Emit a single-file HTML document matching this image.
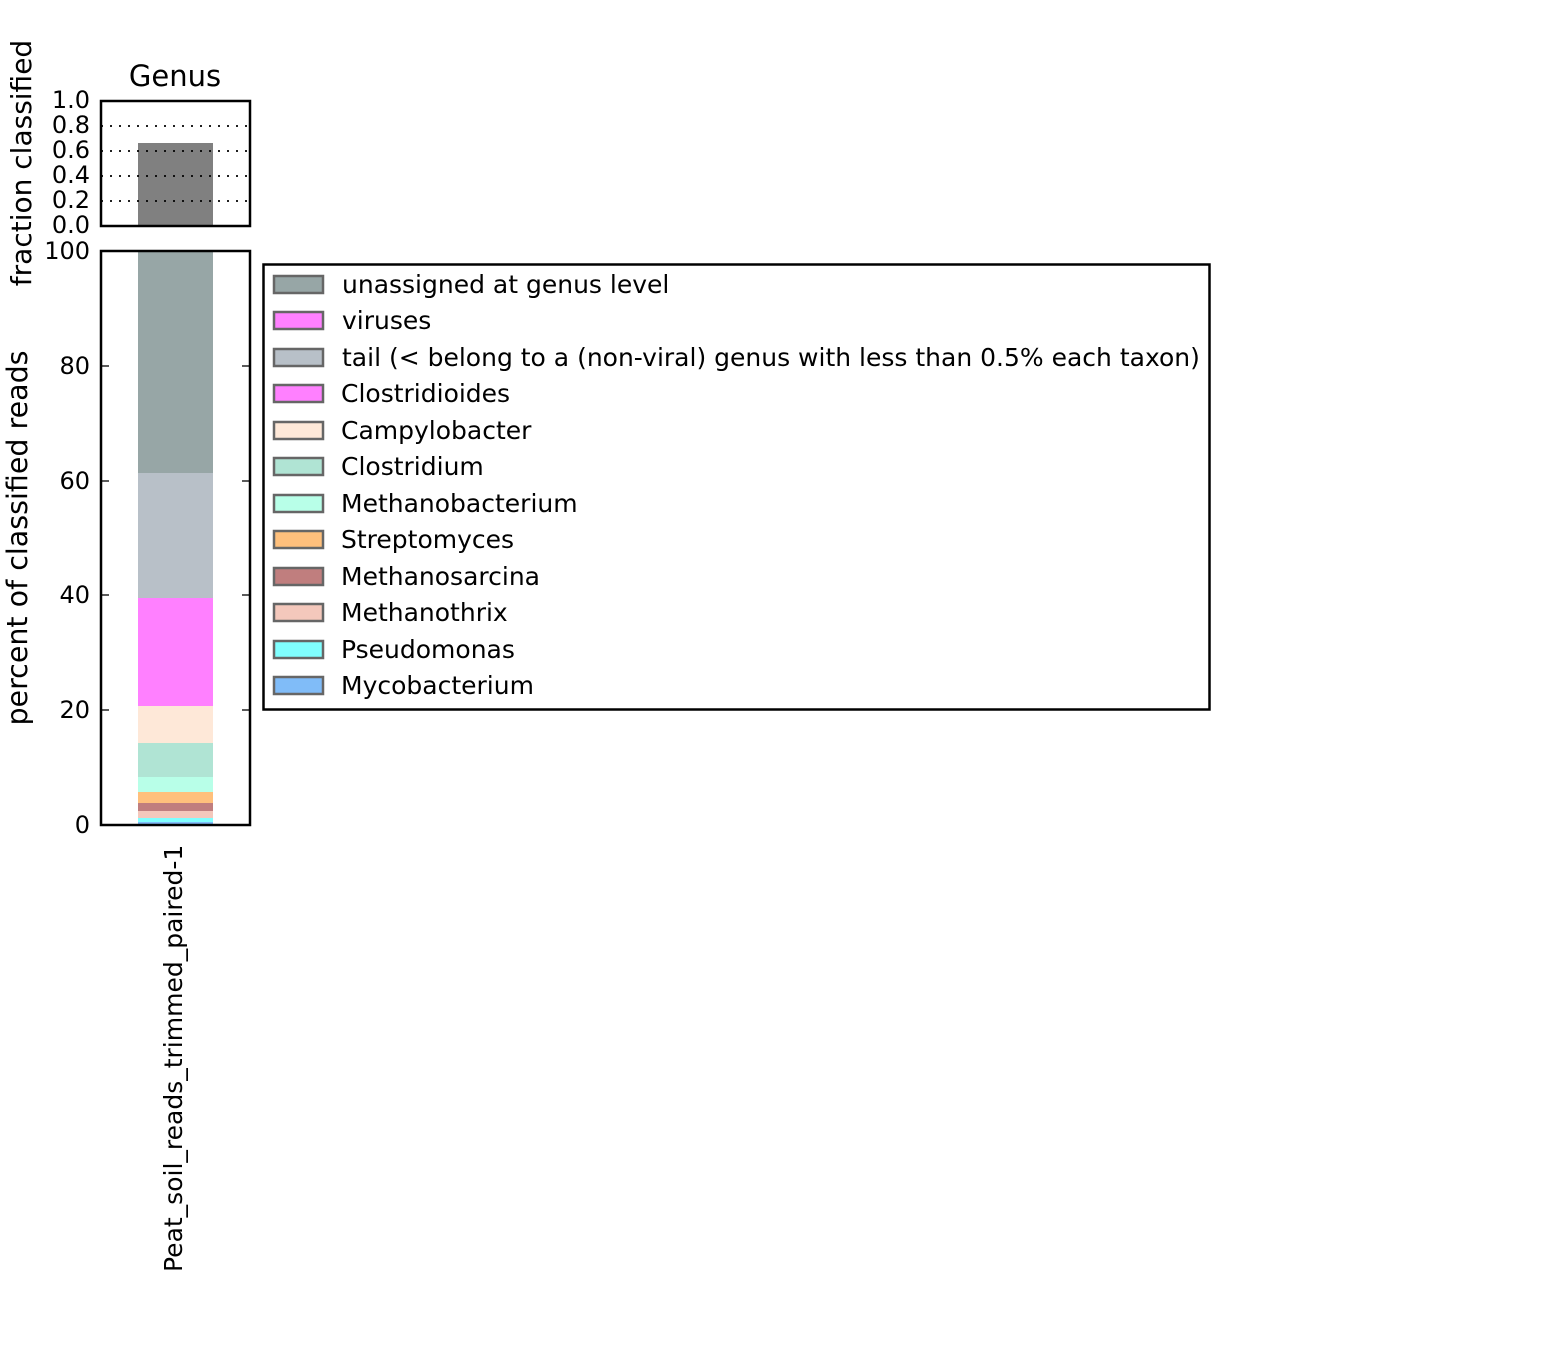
<!DOCTYPE html>
<html><head><meta charset="utf-8"><style>body{margin:0;background:#fff}svg{display:block}</style></head>
<body>
<svg width="1557" height="1362" xmlns="http://www.w3.org/2000/svg" font-family="DejaVu Sans, Liberation Sans, sans-serif">
<rect width="1557" height="1362" fill="#fff"/>
<text x="175" y="86" font-size="29" text-anchor="middle">Genus</text>
<rect x="138" y="143" width="75" height="83" fill="#808080"/>
<g stroke="#000" stroke-width="1.8" stroke-dasharray="2,7">
<line x1="101" y1="126" x2="250" y2="126"/><line x1="101" y1="151" x2="250" y2="151"/>
<line x1="101" y1="176" x2="250" y2="176"/><line x1="101" y1="201" x2="250" y2="201"/>
</g>
<rect x="101" y="101" width="149" height="125" fill="none" stroke="#000" stroke-width="2.5"/>
<g font-size="24" text-anchor="end">
<text x="90" y="108">1.0</text><text x="90" y="133">0.8</text><text x="90" y="158">0.6</text>
<text x="90" y="183">0.4</text><text x="90" y="208">0.2</text><text x="90" y="233">0.0</text>
</g>
<text transform="translate(31,163) rotate(-90)" font-size="28" text-anchor="middle">fraction classified</text>
<rect x="138" y="251" width="75" height="222" fill="#97a6a6"/>
<rect x="138" y="473" width="75" height="125" fill="#b8c0c8"/>
<rect x="138" y="598" width="75" height="108" fill="#ff80ff"/>
<rect x="138" y="706" width="75" height="37" fill="#fee8d8"/>
<rect x="138" y="743" width="75" height="34" fill="#b0e4d4"/>
<rect x="138" y="777" width="75" height="15" fill="#b8ffe8"/>
<rect x="138" y="792" width="75" height="11" fill="#ffc07c"/>
<rect x="138" y="803" width="75" height="8" fill="#c07e7e"/>
<rect x="138" y="811" width="75" height="7" fill="#f4c8bc"/>
<rect x="138" y="818" width="75" height="4" fill="#80ffff"/>
<rect x="138" y="822" width="75" height="3" fill="#80bcf8"/>
<g stroke="#000" stroke-width="1.3">
<line x1="101" y1="366" x2="109" y2="366"/><line x1="242" y1="366" x2="250" y2="366"/>
<line x1="101" y1="481" x2="109" y2="481"/><line x1="242" y1="481" x2="250" y2="481"/>
<line x1="101" y1="595" x2="109" y2="595"/><line x1="242" y1="595" x2="250" y2="595"/>
<line x1="101" y1="710" x2="109" y2="710"/><line x1="242" y1="710" x2="250" y2="710"/>
</g>
<rect x="101" y="251" width="149" height="574" fill="none" stroke="#000" stroke-width="2.5"/>
<g font-size="24" text-anchor="end">
<text x="90" y="259">100</text><text x="90" y="374">80</text><text x="90" y="489">60</text>
<text x="90" y="603">40</text><text x="90" y="718">20</text><text x="90" y="833">0</text>
</g>
<text transform="translate(27,538) rotate(-90)" font-size="28.5" text-anchor="middle">percent of classified reads</text>
<text transform="translate(182,1272) rotate(-90)" font-size="25">Peat_soil_reads_trimmed_paired-1</text>
<rect x="263.5" y="264.5" width="946" height="445" fill="#fff" stroke="#000" stroke-width="2.5"/>
<g stroke="#666" stroke-width="2.5" font-size="25">
<rect x="274" y="276" width="49" height="17" fill="#97a6a6"/>
<rect x="274" y="312" width="49" height="17" fill="#ff80ff"/>
<rect x="274" y="349" width="49" height="17" fill="#b8c0c8"/>
<rect x="274" y="385" width="49" height="17" fill="#ff80ff"/>
<rect x="274" y="422" width="49" height="17" fill="#fee8d8"/>
<rect x="274" y="458" width="49" height="17" fill="#b0e4d4"/>
<rect x="274" y="495" width="49" height="17" fill="#b8ffe8"/>
<rect x="274" y="531" width="49" height="17" fill="#ffc07c"/>
<rect x="274" y="568" width="49" height="17" fill="#c07e7e"/>
<rect x="274" y="604" width="49" height="17" fill="#f4c8bc"/>
<rect x="274" y="641" width="49" height="17" fill="#80ffff"/>
<rect x="274" y="677" width="49" height="17" fill="#80bcf8"/>
<g stroke="none" fill="#000">
<text x="342" y="293">unassigned at genus level</text>
<text x="342" y="329">viruses</text>
<text x="342" y="366">tail (&lt; belong to a (non-viral) genus with less than 0.5% each taxon)</text>
<text x="341" y="402">Clostridioides</text>
<text x="341" y="439">Campylobacter</text>
<text x="341" y="475">Clostridium</text>
<text x="341" y="512">Methanobacterium</text>
<text x="341" y="548">Streptomyces</text>
<text x="341" y="585">Methanosarcina</text>
<text x="341" y="621">Methanothrix</text>
<text x="341" y="658">Pseudomonas</text>
<text x="341" y="694">Mycobacterium</text>
</g>
</g>
</svg>
</body></html>
